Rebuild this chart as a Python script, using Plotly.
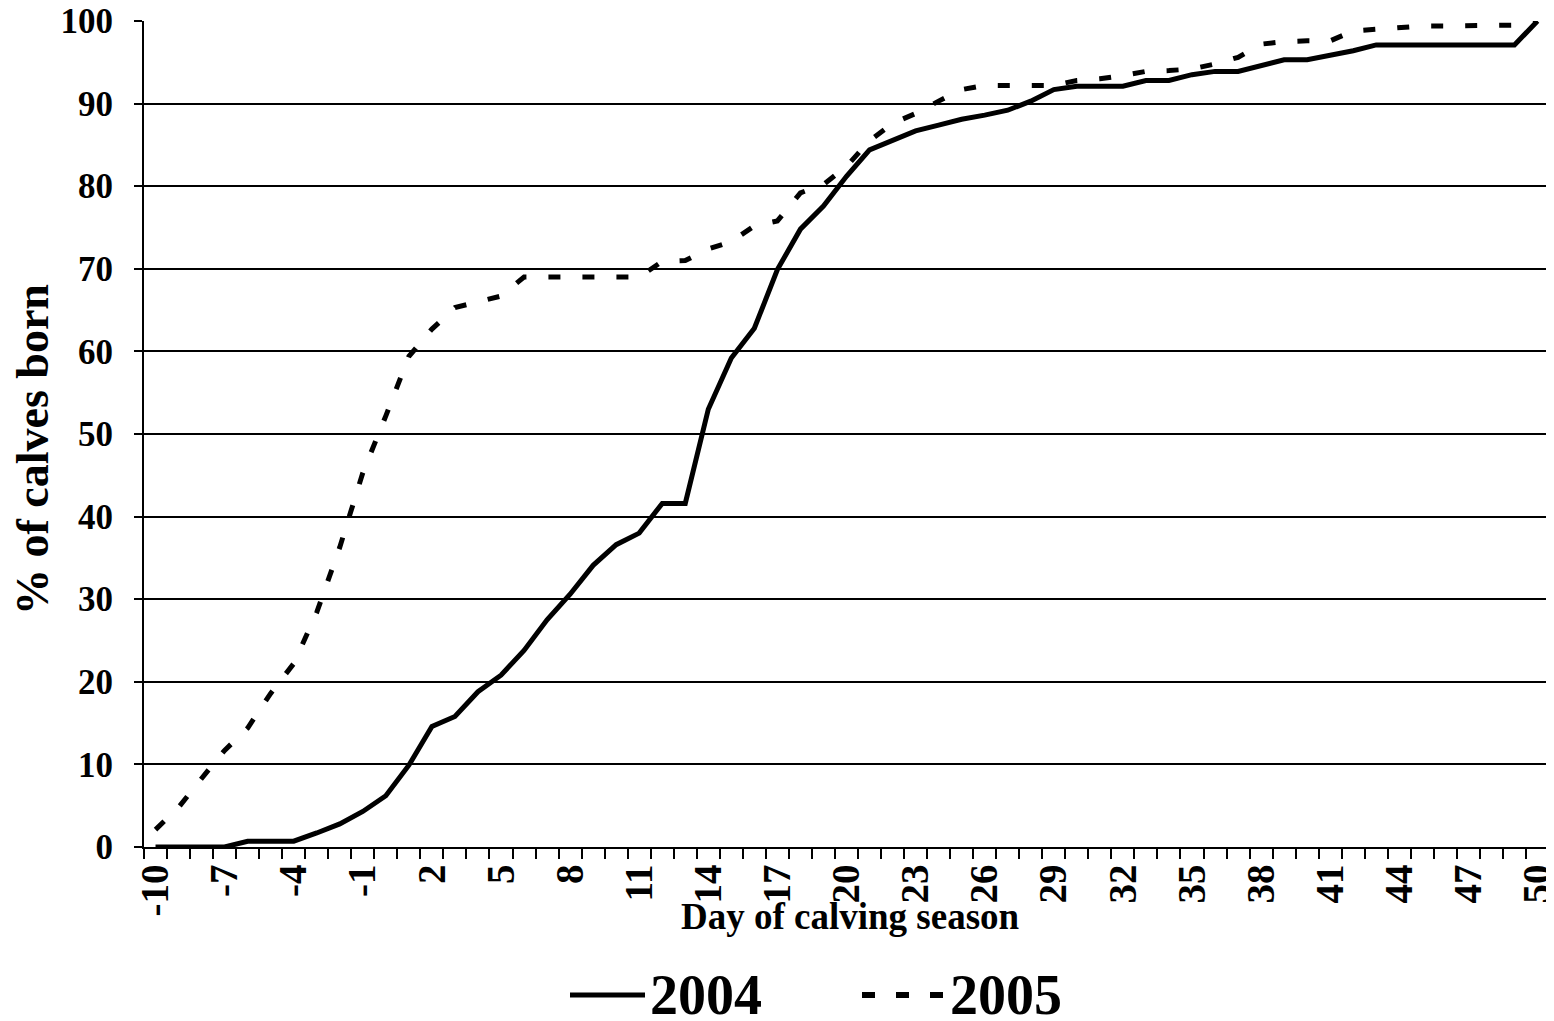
import plotly.graph_objects as go

days = list(range(-10, 51))

pct_2004 = [0, 0, 0, 0, 0.7, 0.7, 0.7, 1.7, 2.8, 4.3,
            6.2, 9.9, 14.6, 15.8, 18.8, 20.8, 23.8, 27.5, 30.6, 34.1,
            36.6, 38.0, 41.6, 41.6, 53.0, 59.2, 62.8, 69.9, 74.8, 77.6,
            81.2, 84.4, 85.6, 86.7, 87.4, 88.1, 88.6, 89.2, 90.3, 91.7,
            92.1, 92.1, 92.1, 92.8, 92.8, 93.5, 93.9, 93.9, 94.6, 95.3,
            95.3, 95.8, 96.4, 97.1, 97.1, 97.1, 97.1, 97.1, 97.1, 97.1,
            100.0]

pct_2005 = [2.1, 4.8, 8.3, 11.7, 14.4, 18.6, 22.2, 28.4, 36.3, 45.3,
            52.2, 59.4, 62.7, 65.3, 66.0, 66.7, 69.0, 69.0, 69.0, 69.0,
            69.0, 69.0, 70.9, 71.0, 72.4, 73.3, 75.2, 75.8, 79.2, 80.2,
            82.4, 85.5, 87.6, 88.8, 90.3, 91.7, 92.2, 92.2, 92.2, 92.2,
            92.8, 93.0, 93.4, 93.9, 94.0, 94.2, 94.8, 95.6, 97.2, 97.5,
            97.6, 97.6, 98.8, 99.0, 99.2, 99.4, 99.4, 99.4, 99.4, 99.5,
            100.0]

tick_days = list(range(-10, 51, 3))
tick_text = [str(d) for d in tick_days]
y_ticks = list(range(0, 101, 10))

FONT = "Liberation Serif"

# page offset of the figure (body margin) and plot-area geometry in page px
OFF = 8
PL, PR, PT, PB = 144, 1549, 21, 847
W, H = 1554 - OFF, 1021 - OFF


def px(x):
    return (x - PL) / (PR - PL)


def py(y):
    return (PB - y) / (PB - PT)


fig = go.Figure()
fig.add_trace(go.Scatter(x=days, y=pct_2004, mode="lines", name="2004",
                         line=dict(color="black", width=5), showlegend=False))
fig.add_trace(go.Scatter(x=days, y=pct_2005, mode="lines", name="2005",
                         line=dict(color="black", width=5, dash="12px,22px"),
                         showlegend=False))

fig.update_layout(
    width=W, height=H,
    margin=dict(l=PL - OFF, r=W - (PR - OFF), t=PT - OFF, b=H - (PB - OFF), pad=0,
                autoexpand=False),
    paper_bgcolor="white", plot_bgcolor="white",
    font=dict(family=FONT, color="black", size=30, weight="bold"),
    xaxis=dict(
        range=[-10.5, 50.5], tickmode="array", tickvals=tick_days, ticktext=tick_text,
        tickangle=-90, ticks="", showgrid=False, zeroline=False, automargin=False,
        showline=True, linecolor="black", linewidth=2,
        tickfont=dict(family=FONT, size=39, weight="bold"),
        ticklabelstandoff=0, ticklabeloverflow="allow",
        minor=dict(ticks="outside", tickmode="linear", tick0=-10.5, dtick=1,
                   ticklen=10, tickwidth=2, tickcolor="black", showgrid=False),
    ),
    yaxis=dict(
        range=[0, 100], tickmode="array", tickvals=y_ticks, automargin=False,
        ticks="outside", ticklen=8, tickwidth=2, tickcolor="black",
        showgrid=True, gridcolor="black", gridwidth=1.5, zeroline=False,
        showline=True, linecolor="black", linewidth=2, mirror=True,
        tickfont=dict(family=FONT, size=35, weight="bold"),
        ticklabelstandoff=14, ticklabeloverflow="allow",
    ),
)

# axis titles
fig.add_annotation(text="Day of calving season", xref="paper", yref="paper",
                   x=px(850), y=py(916), showarrow=False,
                   xanchor="center", yanchor="middle",
                   font=dict(family=FONT, size=37, weight="bold"))
fig.add_annotation(text="% of calves born", xref="paper", yref="paper",
                   x=px(32), y=py(450), showarrow=False,
                   textangle=-90, xanchor="center", yanchor="middle",
                   font=dict(family=FONT, size=46, weight="bold"))

# legend
ly = py(995)
fig.add_shape(type="line", xref="paper", yref="paper",
              x0=px(570), x1=px(645), y0=ly, y1=ly,
              line=dict(color="black", width=5))
fig.add_annotation(text="2004", xref="paper", yref="paper",
                   x=px(648), y=ly, showarrow=False,
                   xanchor="left", yanchor="middle",
                   font=dict(family=FONT, size=56, weight="bold"))
fig.add_shape(type="line", xref="paper", yref="paper",
              x0=px(862), x1=px(946), y0=ly, y1=ly,
              line=dict(color="black", width=6, dash="13px,21px"))
fig.add_annotation(text="2005", xref="paper", yref="paper",
                   x=px(948), y=ly, showarrow=False,
                   xanchor="left", yanchor="middle",
                   font=dict(family=FONT, size=56, weight="bold"))

fig.write_html("out.html")
